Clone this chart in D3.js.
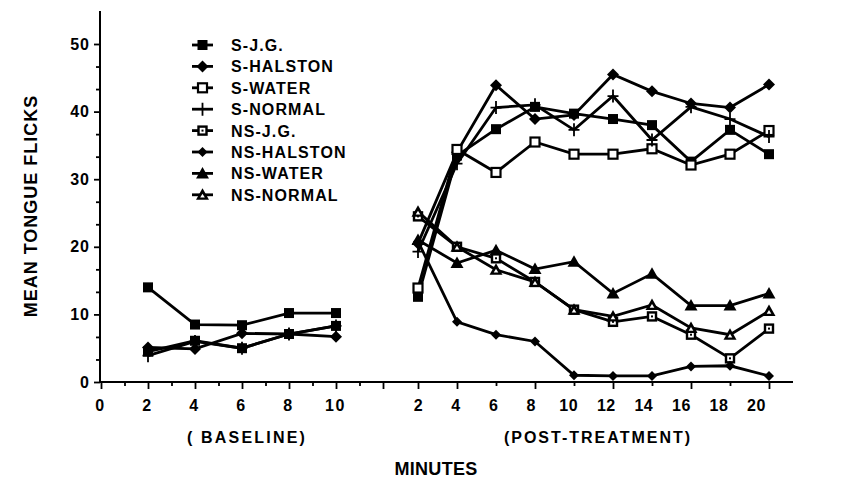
<!DOCTYPE html>
<html><head><meta charset="utf-8">
<script src="https://cdn.jsdelivr.net/npm/d3@7"></script>
<style>
html,body{margin:0;padding:0;background:#fff;}
text{font-family:"Liberation Sans",Arial,Helvetica,sans-serif;font-weight:bold;fill:#000;}
</style></head>
<body><svg id="c" width="843" height="484"></svg>
<script>
// ---- data ----
const minutesBase = [2, 4, 6, 8, 10];
const minutesPost = [2, 4, 6, 8, 10, 12, 14, 16, 18, 20];
const baseTickLabels = [0, 2, 4, 6, 8, 10];
const yTickLabels = [0, 10, 20, 30, 40, 50];

const seriesNames = ["S-J.G.", "S-HALSTON", "S-WATER", "S-NORMAL", "NS-J.G.", "NS-HALSTON", "NS-WATER", "NS-NORMAL"];
const seriesMarkers = ["sqFill", "diamond", "sqOpen", "plus", "sqDot", "diamondSm", "triFill", "triOpen"];

// baseline (pre-treatment) lines
const baseJG      = [14.0, 8.5, 8.4, 10.2, 10.2];
const baseHalston = [5.1, 4.9, 7.2, 7.1, 6.7];
const baseWater   = [4.5, 6.1, 5.0, 7.1, 8.3];
const baseNormal  = [3.9, 6.0, 5.0, 7.1, 8.3];
const baseMarkers = ["sqFill", "diamond", "sqFill", "plus"];

// post-treatment
const postSJG       = [12.6, 33.5, 37.4, 40.7, 39.7, 38.9, 38.0, 32.6, 37.3, 33.7];
const postSHalston  = [20.5, 34.0, 43.9, 38.9, 39.5, 45.5, 43.0, 41.2, 40.6, 44.0];
const postSWater    = [13.9, 34.4, 31.0, 35.5, 33.7, 33.7, 34.5, 32.1, 33.7, 37.2];
const postSNormal   = [19.3, 32.3, 40.6, 41.0, 37.3, 42.3, 35.8, 40.7, 38.9, 36.3];
const postNSJG      = [24.5, 20.0, 18.3, 14.8, 10.7, 8.9, 9.7, 7.0, 3.5, 7.9];
const postNSHalston = [20.8, 8.9, 7.0, 6.0, 1.0, 0.9, 0.9, 2.3, 2.4, 0.9];
const postNSWater   = [21.0, 17.6, 19.5, 16.7, 17.8, 13.1, 16.0, 11.3, 11.3, 13.1];
const postNSNormal  = [25.2, 20.0, 16.6, 14.8, 10.7, 9.7, 11.4, 8.0, 7.0, 10.5];

const baseSeries = [baseJG, baseHalston, baseWater, baseNormal];
const postSeries = [postSJG, postSHalston, postSWater, postSNormal, postNSJG, postNSHalston, postNSWater, postNSNormal];

// ---- drawing ----
const svg = d3.select("#c");
const y = d3.scaleLinear().domain([0, 50]).range([382, 44]);
const xBase = d3.scaleLinear().domain([0, 12]).range([101, 383]);
const xPost = d3.scaleLinear().domain([2, 20]).range([418, 769]);
const xPostLabel = d3.scaleLinear().domain([2, 20]).range([418, 756]);

// axes lines
svg.append("line").attr("x1", 100).attr("x2", 793).attr("y1", y(0)).attr("y2", y(0))
  .attr("stroke", "#000").attr("stroke-width", 2);
svg.append("line").attr("x1", 100).attr("x2", 100).attr("y1", y(0)).attr("y2", 11)
  .attr("stroke", "#000").attr("stroke-width", 2);

function styleAxis(g) {
  g.select(".domain").remove();
  g.selectAll(".tick line").attr("stroke", "#000").attr("stroke-width", 1.8);
}
// y axis
const yMinor = d3.range(0, 16).map(i => i * 10 / 3).filter(v => Math.abs(v % 10) > 0.01 && Math.abs(v % 10 - 10) > 0.01);
svg.append("g").attr("transform", "translate(100,0)")
  .call(d3.axisLeft(y).tickValues(yMinor).tickSize(4).tickFormat(""))
  .call(styleAxis);
svg.append("g").attr("transform", "translate(100,0)")
  .call(d3.axisLeft(y).tickValues(yTickLabels).tickSize(6).tickPadding(4))
  .call(styleAxis)
  .call(g => g.selectAll("text").style("font-size", "16px").style("letter-spacing", "1px"));

// x axis baseline
svg.append("g").attr("transform", `translate(0,${y(0)})`)
  .call(d3.axisBottom(xBase).tickValues([0, 2, 4, 6, 8, 10, 12]).tickSize(7).tickFormat(""))
  .call(styleAxis);
svg.append("g").attr("transform", `translate(0,${y(0)})`)
  .call(d3.axisBottom(xBase).tickValues([1, 3, 5, 7, 9, 11]).tickSize(4).tickFormat(""))
  .call(styleAxis);
svg.append("g").attr("transform", `translate(-1,${y(0)})`)
  .call(d3.axisBottom(xBase).tickValues(baseTickLabels).tickSize(0).tickPadding(18))
  .call(styleAxis)
  .call(g => g.selectAll("text").style("font-size", "16px").style("letter-spacing", "1.5px"));
// x axis post
svg.append("g").attr("transform", `translate(0,${y(0)})`)
  .call(d3.axisBottom(xPost).tickValues([2, 4, 8, 12, 16, 20]).tickSize(7).tickFormat(""))
  .call(styleAxis);
svg.append("g").attr("transform", `translate(0,${y(0)})`)
  .call(d3.axisBottom(xPost).tickValues([6, 10, 14, 18]).tickSize(4).tickFormat(""))
  .call(styleAxis);
svg.append("g").attr("transform", `translate(0,${y(0)})`)
  .call(d3.axisBottom(xPostLabel).tickValues(minutesPost).tickSize(0).tickPadding(18))
  .call(styleAxis)
  .call(g => g.selectAll("text").style("font-size", "16px").style("letter-spacing", "0.5px"));

// titles
svg.append("text").attr("x", 247).attr("y", 443).attr("text-anchor", "middle")
  .style("font-size", "16px").style("letter-spacing", "2.2px").text("( BASELINE)");
svg.append("text").attr("x", 598).attr("y", 443).attr("text-anchor", "middle")
  .style("font-size", "16px").style("letter-spacing", "2px").text("(POST-TREATMENT)");
svg.append("text").attr("x", 436).attr("y", 475).attr("text-anchor", "middle")
  .style("font-size", "18px").style("letter-spacing", "0.3px").text("MINUTES");
svg.append("text").attr("transform", "translate(37,206) rotate(-90)").attr("text-anchor", "middle")
  .style("font-size", "18px").style("letter-spacing", "1px").text("MEAN TONGUE FLICKS");

// markers
function marker(g, type, cx, cy) {
  const s = g.append("g").attr("transform", `translate(${cx},${cy})`);
  switch (type) {
    case "sqFill":
      s.append("rect").attr("x", -5).attr("y", -5).attr("width", 10).attr("height", 10).attr("fill", "#000"); break;
    case "sqOpen":
      s.append("rect").attr("x", -4.5).attr("y", -4.5).attr("width", 9).attr("height", 9)
        .attr("fill", "#fff").attr("stroke", "#000").attr("stroke-width", 2.2); break;
    case "sqDot":
      s.append("rect").attr("x", -4).attr("y", -4).attr("width", 8).attr("height", 8)
        .attr("fill", "#fff").attr("stroke", "#000").attr("stroke-width", 2.4);
      s.append("rect").attr("x", -1).attr("y", -1).attr("width", 2).attr("height", 2).attr("fill", "#000"); break;
    case "diamond":
      s.append("path").attr("d", "M0,-6L6,0L0,6L-6,0Z").attr("fill", "#000"); break;
    case "diamondSm":
      s.append("path").attr("d", "M0,-5L5,0L0,5L-5,0Z").attr("fill", "#000"); break;
    case "plus":
      s.append("path").attr("d", "M-5.5,0H5.5M0,-6.5V6.5").attr("stroke", "#000").attr("stroke-width", 1.8); break;
    case "triFill":
      s.append("path").attr("d", "M0,-6.5L6.5,5L-6.5,5Z").attr("fill", "#000"); break;
    case "triOpen":
      s.append("path").attr("d", "M0,-6.5L6.5,5L-6.5,5Z").attr("fill", "#000");
      s.append("path").attr("d", "M0,-1L2.3,2.8L-2.3,2.8Z").attr("fill", "#fff"); break;
  }
}

const line = d3.line();
const plot = svg.append("g");
baseSeries.forEach((vals, i) => {
  const pts = vals.map((v, j) => [xBase(minutesBase[j]), y(v)]);
  plot.append("path").attr("d", line(pts)).attr("fill", "none").attr("stroke", "#000").attr("stroke-width", 2.8);
});
postSeries.forEach((vals, i) => {
  const pts = vals.map((v, j) => [xPost(minutesPost[j]), y(v)]);
  plot.append("path").attr("d", line(pts)).attr("fill", "none").attr("stroke", "#000").attr("stroke-width", 2.8);
});
baseSeries.forEach((vals, i) => {
  vals.forEach((v, j) => marker(plot, baseMarkers[i], xBase(minutesBase[j]), y(v)));
});
postSeries.forEach((vals, i) => {
  vals.forEach((v, j) => marker(plot, seriesMarkers[i], xPost(minutesPost[j]), y(v)));
});

// legend
const leg = svg.append("g");
seriesNames.forEach((name, i) => {
  const ly = 45 + i * 21.4;
  leg.append("line").attr("x1", 192).attr("x2", 213).attr("y1", ly).attr("y2", ly)
    .attr("stroke", "#000").attr("stroke-width", 2.8);
  marker(leg, seriesMarkers[i], 202.5, ly);
  leg.append("text").attr("x", 231).attr("y", ly + 6).style("font-size", "16px")
    .style("letter-spacing", "1.1px").text(name);
});
</script></body></html>
